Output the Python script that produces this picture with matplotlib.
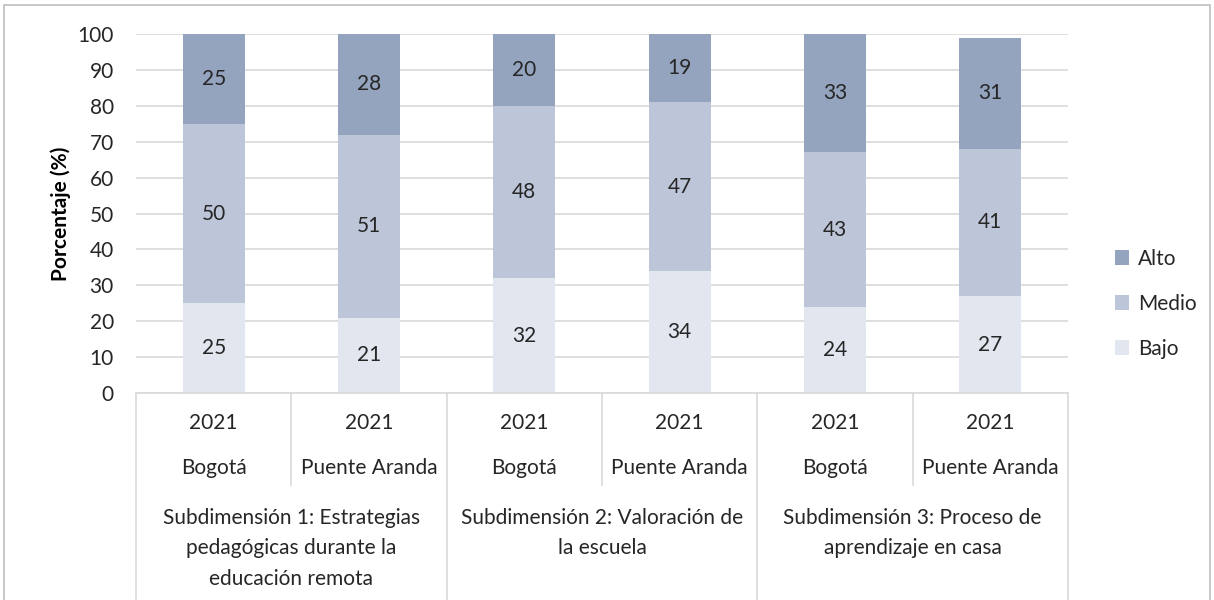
import matplotlib.pyplot as plt
import matplotlib.transforms as mtransforms
import matplotlib.patches as mpatches

plt.rcParams['font.family'] = ['Lato', 'DejaVu Sans']

years = ['2021'] * 6
places = ['Bogotá', 'Puente Aranda', 'Bogotá', 'Puente Aranda', 'Bogotá', 'Puente Aranda']
groups = ['Subdimensión 1: Estrategias\npedagógicas durante la\neducación remota',
          'Subdimensión 2: Valoración de\nla escuela',
          'Subdimensión 3: Proceso de\naprendizaje en casa']
bajo = [25, 21, 32, 34, 24, 27]
medio = [50, 51, 48, 47, 43, 41]
alto = [25, 28, 20, 19, 33, 31]

colBajo = '#E1E6EF'
colMedio = '#BDC6D8'
colAlto = '#94A3BE'
gridCol = '#D9D9D9'
textCol = '#262626'
fs = 15

fig = plt.figure(figsize=(12.14, 6.0), dpi=100)
# outer chart border
fig.patches.append(mpatches.Rectangle((4/1214, -0.01), 1206/1214, 1.01 - 5/600,
                                      transform=fig.transFigure, fill=False,
                                      edgecolor='#BFBFBF', linewidth=1.2))

ax = fig.add_axes([136/1214, 1 - 393/600, (1068 - 136)/1214, (393 - 34)/600])
x = list(range(len(bajo)))
w = 0.4
bottoms2 = [b + m for b, m in zip(bajo, medio)]
ax.bar(x, bajo, w, color=colBajo, label='Bajo', zorder=2)
ax.bar(x, medio, w, bottom=bajo, color=colMedio, label='Medio', zorder=2)
ax.bar(x, alto, w, bottom=bottoms2, color=colAlto, label='Alto', zorder=2)

for i in x:
    ax.text(i, bajo[i] / 2, str(bajo[i]), ha='center', va='center', fontsize=fs, color=textCol)
    ax.text(i, bajo[i] + medio[i] / 2, str(medio[i]), ha='center', va='center', fontsize=fs, color=textCol)
    ax.text(i, bottoms2[i] + alto[i] / 2, str(alto[i]), ha='center', va='center', fontsize=fs, color=textCol)

ax.set_xlim(-0.5, len(x) - 0.5)
ax.set_ylim(0, 100)
ax.set_yticks(range(0, 101, 10))
ax.tick_params(axis='y', length=0, labelsize=fs, labelcolor=textCol, pad=16)
ax.set_xticks([])
ax.yaxis.grid(True, color=gridCol, linewidth=1.2, zorder=0)
for s in ['top', 'right', 'left']:
    ax.spines[s].set_visible(False)
ax.spines['bottom'].set_color(gridCol)
ax.spines['bottom'].set_linewidth(1.2)
ax.set_ylabel('Porcentaje (%)', fontsize=fs, fontweight='bold', color='black')
ax.yaxis.set_label_coords(-(136 - 71) / 932, 0.5)

# multi-level category axis
trans = mtransforms.blended_transform_factory(ax.transData, ax.transAxes)
def ay(py):
    return (393 - py) / 359

for i in x:
    ax.text(i, ay(423), years[i], transform=trans, ha='center', va='center', fontsize=fs, color=textCol)
    ax.text(i, ay(468), places[i], transform=trans, ha='center', va='center', fontsize=fs, color=textCol)
for g, label in enumerate(groups):
    ax.text(2 * g + 0.5, ay(508), label, transform=trans, ha='center', va='top',
            fontsize=fs, color=textCol, linespacing=1.65)

for i in range(len(x) + 1):
    xb = i - 0.5
    yEnd = ay(600) if i % 2 == 0 else ay(485)
    ax.plot([xb, xb], [0, yEnd], transform=trans, color=gridCol, linewidth=1.2, clip_on=False)

handles, labels = ax.get_legend_handles_labels()
ax.legend(handles[::-1], labels[::-1], loc='center left', bbox_to_anchor=(1.03, ay(304)),
          frameon=False, fontsize=fs, handlelength=0.7, handleheight=0.7,
          handletextpad=0.4, labelspacing=1.2, labelcolor=textCol)

fig.savefig('out.png', dpi=100)
